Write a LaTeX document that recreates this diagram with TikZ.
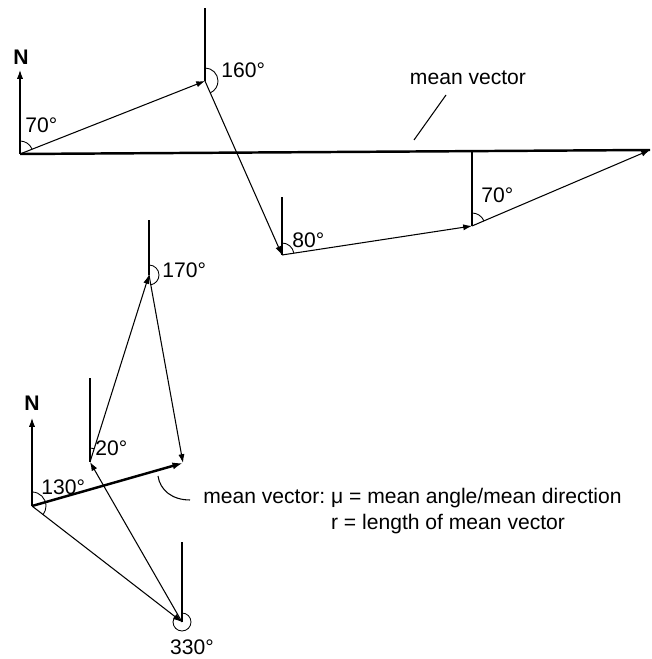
\documentclass[tikz,border=0pt]{standalone}
\usepackage{fontspec}
\setmainfont{Liberation Sans}
\usetikzlibrary{arrows.meta}

\begin{document}
\begin{tikzpicture}[x=0.2mm,y=0.2mm,
        vec/.style={line width=0.6pt,-{Latex[length=5pt,width=3.5pt]}},
        meanvec/.style={line width=1.4pt},
        north/.style={line width=0.6pt},
        ang/.style={line width=0.5pt},
        lbl/.style={font=\fontsize{12}{14.4}\selectfont,inner sep=0pt}]
        \useasboundingbox (0,0) rectangle (652,659);
        % Upper figure: points of the path
        \coordinate (o1) at (20,505);
        \coordinate (a1) at (205,578);
        \coordinate (b1) at (282,404);
        \coordinate (c1) at (472,433);
        \coordinate (d1) at (650,509);
        % Upper figure: tops of the north lines
        \coordinate (no1) at (20,589);
        \coordinate (na1) at (205,651);
        \coordinate (nb1) at (282,462);
        \coordinate (nc1) at (472,508);
        % Upper figure: labels
        \node[lbl] (n1) at (21,602) {\bfseries N};
        \node[lbl,anchor=west] (lo1) at (25,534) {70°};
        \node[lbl,anchor=west] (la1) at (221,589) {160°};
        \node[lbl,anchor=west] (lb1) at (292,419) {80°};
        \node[lbl,anchor=west] (lc1) at (481,464) {70°};
        \node[lbl] (m1) at (468,581) {mean vector};
        \coordinate (mt1) at (446,564);
        \coordinate (mb1) at (414,519);
        % Upper figure: lines
        \draw[vec] (o1) -- (no1);
        \draw[north] (a1) -- (na1);
        \draw[north] (b1) -- (nb1);
        \draw[north] (c1) -- (nc1);
        \draw[meanvec] (o1) -- (d1);
        \draw[vec] (o1) -- (a1);
        \draw[vec] (a1) -- (b1);
        \draw[vec] (b1) -- (c1);
        \draw[vec] (c1) -- (d1);
        \draw[north] (mt1) -- (mb1);
        % Upper figure: angles
        \draw[ang] ([shift={(90:13)}]o1) arc[start angle=90,end angle=22,radius=13];
        \draw[ang] ([shift={(90:13)}]a1) arc[start angle=90,end angle=-66,radius=13];
        \draw[ang] ([shift={(90:12)}]b1) arc[start angle=90,end angle=9,radius=12];
        \draw[ang] ([shift={(90:13)}]c1) arc[start angle=90,end angle=23,radius=13];
        % Lower figure: points of the path
        \coordinate (o2) at (32,153);
        \coordinate (r2) at (182,37);
        \coordinate (p2) at (90,197);
        \coordinate (q2) at (149,384);
        \coordinate (s2) at (183,196);
        % Lower figure: tops of the north lines
        \coordinate (no2) at (32,241);
        \coordinate (nr2) at (182,117);
        \coordinate (np2) at (90,281);
        \coordinate (nq2) at (149,439);
        % Lower figure: labels
        \node[lbl] (n2) at (32,256) {\bfseries N};
        \node[lbl,anchor=west] (lo2) at (41,172) {130°};
        \node[lbl] (lr2) at (192,12) {330°};
        \node[lbl,anchor=west] (lp2) at (95,211) {20°};
        \node[lbl,anchor=west] (lq2) at (162,389) {170°};
        \node[lbl,anchor=base west] (m2) at (203,155) {\begin{tabular}[t]{@{}r@{}l@{}}
            mean vector: & \ μ = mean angle/mean direction\\
            & \ r = length of mean vector\end{tabular}};
        \coordinate (mt2) at (158,183);
        \coordinate (mb2) at (190,159);
        % Lower figure: lines
        \draw[vec] (o2) -- (no2);
        \draw[north] (r2) -- (nr2);
        \draw[north] (p2) -- (np2);
        \draw[north] (q2) -- (nq2);
        \draw[meanvec,-{Latex[length=6pt,width=4pt]}] (o2) -- (s2);
        \draw[vec] (o2) -- (r2);
        \draw[vec] (r2) -- (p2);
        \draw[vec] (p2) -- (q2);
        \draw[vec] (q2) -- (s2);
        \draw[north] (mt2) .. controls (160,169) and (172,159) .. (mb2);
        % Lower figure: angles
        \draw[ang] ([shift={(90:14)}]o2) arc[start angle=90,end angle=-38,radius=14];
        \draw[ang] ([shift={(90:9)}]r2) arc[start angle=90,end angle=-240,radius=9];
        \draw[ang] ([shift={(90:14)}]p2) arc[start angle=90,end angle=72,radius=14];
        \draw[ang] ([shift={(90:10)}]q2) arc[start angle=90,end angle=-80,radius=10];
    \end{tikzpicture}
\end{document}
